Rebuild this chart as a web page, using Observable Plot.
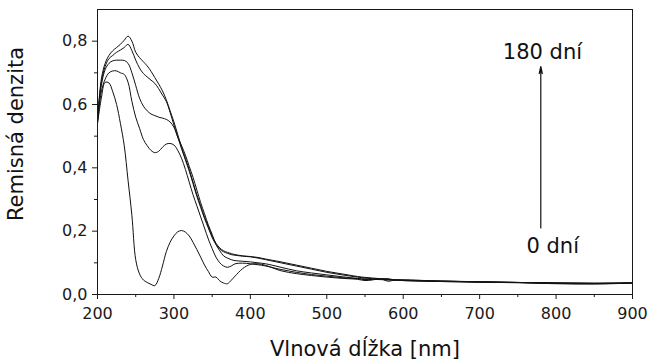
<!DOCTYPE html>
<html><head><meta charset="utf-8">
<script src="https://cdn.jsdelivr.net/npm/d3@7"></script>
<script src="https://cdn.jsdelivr.net/npm/@observablehq/plot@0.6"></script>
<style>body{margin:0;background:#fff}</style>
</head><body><div id="chart"></div>
<script>
const wavelengths = [200,205,210,215,220,225,230,235,240,245,250,255,260,265,270,275,280,285,290,295,300,305,310,315,320,325,330,335,340,345,350,355,360,365,370,375,380,390,400,410,420,440,460,480,500,520,540,550,560,570,580,590,600,650,700,750,800,850,900];

const seriesA = [0.54,0.62,0.67,0.668,0.64,0.60,0.54,0.47,0.36,0.25,0.11,0.065,0.046,0.038,0.032,0.028,0.05,0.09,0.135,0.165,0.185,0.198,0.202,0.197,0.185,0.165,0.142,0.118,0.093,0.073,0.055,0.055,0.043,0.036,0.034,0.045,0.058,0.082,0.095,0.097,0.092,0.075,0.066,0.06,0.055,0.051,0.048,0.044,0.046,0.05,0.042,0.046,0.044,0.041,0.039,0.037,0.034,0.033,0.036];
const seriesB = [0.54,0.64,0.68,0.70,0.706,0.706,0.70,0.695,0.67,0.61,0.56,0.525,0.49,0.47,0.455,0.448,0.452,0.465,0.475,0.477,0.472,0.455,0.43,0.395,0.355,0.315,0.28,0.245,0.21,0.175,0.145,0.118,0.10,0.09,0.086,0.09,0.097,0.099,0.097,0.094,0.09,0.079,0.07,0.063,0.058,0.053,0.05,0.047,0.048,0.049,0.05,0.045,0.046,0.042,0.04,0.038,0.035,0.034,0.036];
const seriesC = [0.55,0.66,0.71,0.73,0.738,0.74,0.74,0.739,0.73,0.70,0.66,0.62,0.595,0.58,0.57,0.565,0.56,0.557,0.553,0.545,0.528,0.497,0.47,0.44,0.405,0.37,0.33,0.29,0.255,0.22,0.19,0.158,0.138,0.122,0.115,0.11,0.107,0.105,0.103,0.10,0.097,0.086,0.075,0.068,0.062,0.056,0.051,0.049,0.048,0.047,0.046,0.045,0.044,0.041,0.039,0.038,0.036,0.035,0.036];
const seriesD = [0.55,0.67,0.72,0.745,0.755,0.765,0.772,0.78,0.79,0.77,0.74,0.715,0.698,0.687,0.677,0.667,0.65,0.63,0.61,0.575,0.535,0.497,0.46,0.425,0.39,0.35,0.31,0.275,0.24,0.21,0.18,0.158,0.143,0.135,0.13,0.126,0.124,0.121,0.119,0.115,0.11,0.10,0.09,0.08,0.07,0.062,0.055,0.052,0.05,0.049,0.047,0.046,0.045,0.042,0.04,0.038,0.036,0.035,0.037];
const seriesE = [0.55,0.68,0.73,0.755,0.77,0.78,0.79,0.803,0.816,0.80,0.765,0.748,0.735,0.722,0.705,0.685,0.665,0.643,0.615,0.58,0.545,0.505,0.465,0.43,0.395,0.355,0.315,0.28,0.245,0.215,0.185,0.162,0.147,0.138,0.133,0.129,0.126,0.122,0.12,0.117,0.112,0.103,0.093,0.083,0.073,0.065,0.057,0.054,0.052,0.05,0.048,0.047,0.046,0.043,0.04,0.038,0.037,0.036,0.037];

const seriesNames = ["0 dní", "s2", "s3", "s4", "180 dní"];
const seriesValues = [seriesA, seriesB, seriesC, seriesD, seriesE];

const xTicks = [200,300,400,500,600,700,800,900];
const xMinor = [250,350,450,550,650,750,850];
const yTicks = [0,0.2,0.4,0.6,0.8];
const yMinor = [0.1,0.3,0.5,0.7];

const xTitle = "Vlnová dĺžka [nm]";
const yTitle = "Remisná denzita";

const arrowData = [{x: 780, y1: 0.21, y2: 0.72}];
const labelText = ["180 dní", "0 dní"];
const labelX = [834, 830];
const labelY = [0.745, 0.13];

const rows = [];
seriesValues.forEach((vals, i) => vals.forEach((v, j) => rows.push({wl: wavelengths[j], r: v, z: seriesNames[i]})));
const labels = labelText.map((t, i) => ({t, x: labelX[i], y: labelY[i]}));

const font = "'DejaVu Sans', 'Liberation Sans', Arial, sans-serif";
const chart = Plot.plot({
  width: 650, height: 361,
  marginLeft: 97, marginRight: 18, marginTop: 9, marginBottom: 67,
  style: {fontFamily: font, fontSize: "16px", color: "#1a1a1a", background: "white"},
  x: {domain: [200, 900]},
  y: {domain: [0, 0.9]},
  marks: [
    Plot.axisX({ticks: xTicks, tickSize: 5, tickPadding: 8, tickFormat: d => String(d), label: null, fontSize: 16}),
    Plot.axisX({ticks: xMinor, tickSize: 3, text: null, label: null}),
    Plot.axisY({ticks: yTicks, tickSize: 5, tickPadding: 5, tickFormat: d => d.toFixed(1).replace(".", ","), label: null, fontSize: 16}),
    Plot.axisY({ticks: yMinor, tickSize: 3, text: null, label: null}),
    Plot.line(rows, {x: "wl", y: "r", z: "z", stroke: "#111", strokeWidth: 1, curve: "catmull-rom"}),
    Plot.frame({stroke: "#1a1a1a", strokeWidth: 1}),
    Plot.arrow(arrowData, {x1: "x", x2: "x", y1: "y1", y2: "y2", stroke: "#111", strokeWidth: 1.2, headLength: 9, headAngle: 25}),
    Plot.text(labels, {x: "x", y: "y", text: "t", textAnchor: "end", lineAnchor: "bottom", fontSize: 21, fill: "#111"}),
    Plot.text([xTitle], {frameAnchor: "bottom", dy: 61, textAnchor: "middle", lineAnchor: "bottom", fontSize: 21, fill: "#111"}),
    Plot.text([yTitle], {frameAnchor: "left", dx: -81, dy: -18, rotate: -90, textAnchor: "middle", lineAnchor: "middle", fontSize: 21, fill: "#111"})
  ]
});
document.getElementById("chart").append(chart);
</script>
</body></html>
